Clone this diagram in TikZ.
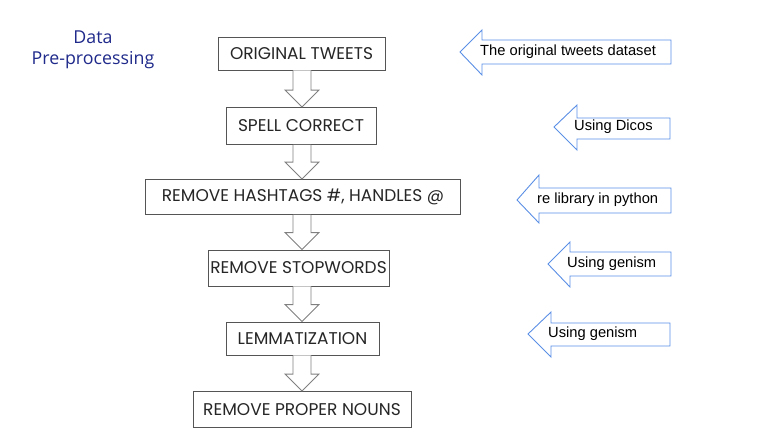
\documentclass[tikz,border=0pt]{standalone}
\usepackage{fontspec}
\setmainfont{Liberation Sans}
\newfontfamily\boxfont{Poppins}
\newfontfamily\titlefont{Open Sans}
\usetikzlibrary{calc}
\definecolor{navy}{HTML}{1F2A8A}
\definecolor{blueline}{HTML}{5B8FE6}
\definecolor{boxline}{HTML}{555555}
\definecolor{arrline}{HTML}{808080}
\tikzset{
  stepbox/.style={draw=boxline, line width=0.9pt, inner sep=0pt, font=\boxfont\fontsize{17}{19}\selectfont, text=black!85},
  downarr/.style={draw=arrline, line width=0.9pt, fill=white, line join=miter},
  leftarr/.style={draw=blueline, line width=0.9pt, fill=white, line join=miter},
  arrtext/.style={font=\fontsize{14.7}{16}\selectfont, anchor=west, inner sep=0pt, text=black},
  titletext/.style={font=\titlefont\fontsize{17.8}{20}\selectfont, text=navy, inner sep=0pt},
}
\newcommand\darrow[2]{%
  \draw[downarr] ($(#1.south -| ax)+(-9,0)$) -- ($(#2.north -| ax)+(-9,-17)$) -- ($(#2.north -| ax)+(-17,-17)$)
    -- (#2.north -| ax) -- ($(#2.north -| ax)+(17,-17)$) -- ($(#2.north -| ax)+(9,-17)$) -- ($(#1.south -| ax)+(9,0)$);}
% tipx tipy headx headtop headbottom shafttop shaftbottom right
\newcommand\larrow[8]{%
  \draw[leftarr] (#1,#2) -- (#3,#4) -- (#3,#6) -- (#8,#6) -- (#8,#7) -- (#3,#7) -- (#3,#5) -- cycle;}
\begin{document}
\begin{tikzpicture}[x=1pt,y=-1pt]
\useasboundingbox (0,0) rectangle (768,432);
\coordinate (ax) at (302,0);
\node[titletext] (title1) at (93,37) {Data};
\node[titletext] (title2) at (93,60) {Pre-processing};
\node[stepbox, minimum width=167pt, minimum height=33pt] (b1) at (301.5,53.5) {ORIGINAL TWEETS};
\node[stepbox, minimum width=150pt, minimum height=37pt] (b2) at (301,126) {SPELL CORRECT};
\node[stepbox, minimum width=315pt, minimum height=35pt] (b3) at (303,197) {REMOVE HASHTAGS \#, HANDLES @};
\node[stepbox, minimum width=181pt, minimum height=36pt] (b4) at (298.5,268) {REMOVE STOPWORDS};
\node[stepbox, minimum width=153pt, minimum height=33pt] (b5) at (302.5,338.5) {LEMMATIZATION};
\node[stepbox, minimum width=218pt, minimum height=36pt] (b6) at (302,409.5) {REMOVE PROPER NOUNS};
\darrow{b1}{b2}
\darrow{b2}{b3}
\darrow{b3}{b4}
\darrow{b4}{b5}
\darrow{b5}{b6}
\larrow{460}{52}{482}{30}{75}{40}{64}{671}
\node[arrtext] (t1) at (480,52) {The original tweets dataset};
\larrow{554}{127}{577}{105}{150}{118}{139}{670}
\node[arrtext] (t2) at (574,127) {Using Dicos};
\larrow{517}{200}{539}{175}{223}{188}{213}{671}
\node[arrtext] (t3) at (537,200) {re library in python};
\larrow{548}{264}{570}{242}{287}{252}{276}{671}
\node[arrtext] (t4) at (567,264) {Using genism};
\larrow{528}{334}{551}{312}{357}{323}{346}{670}
\node[arrtext] (t5) at (548,334) {Using genism};
\end{tikzpicture}
\end{document}
